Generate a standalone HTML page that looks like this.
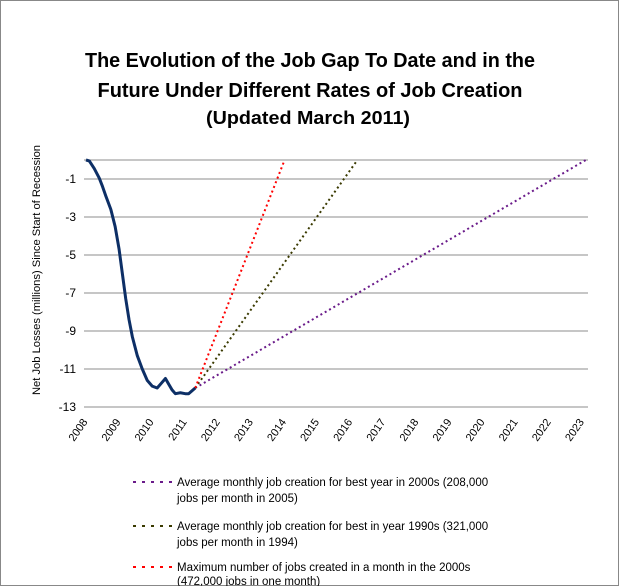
<!DOCTYPE html>
<html><head><meta charset="utf-8"><style>
html,body{margin:0;padding:0;background:#fff}
svg{display:block;font-family:"Liberation Sans",sans-serif}
</style></head><body>
<svg width="619" height="586" viewBox="0 0 619 586">
<rect x="0.5" y="0.5" width="618" height="585" fill="#fff" stroke="#888"/>
<g font-weight="bold" text-anchor="middle" fill="#000">
<text x="310" y="67" font-size="20" textLength="450" lengthAdjust="spacingAndGlyphs">The Evolution of the Job Gap To Date and in the</text>
<text x="310" y="97" font-size="20" textLength="425" lengthAdjust="spacingAndGlyphs">Future Under Different Rates of Job Creation</text>
<text x="308" y="124" font-size="18" textLength="204" lengthAdjust="spacingAndGlyphs">(Updated March 2011)</text>
</g>
<text transform="translate(40,270) rotate(-90)" text-anchor="middle" font-size="11" textLength="250" lengthAdjust="spacingAndGlyphs">Net Job Losses (millions) Since Start of Recession</text>
<g id="grid"></g>
<g id="yticks"></g>
<g id="xticks"></g>
<g id="series"></g>
<g font-size="11.5" fill="#000">
<line x1="133" y1="482" x2="172" y2="482" stroke="#6a1b8a" stroke-width="2" stroke-dasharray="3,6"/>
<text x="177" y="486">Average monthly job creation for best year in 2000s (208,000</text>
<text x="177" y="502">jobs per month in 2005)</text>
<line x1="133" y1="526" x2="172" y2="526" stroke="#3a3a00" stroke-width="2" stroke-dasharray="3,6"/>
<text x="177" y="530">Average monthly job creation for best in year 1990s (321,000</text>
<text x="177" y="546">jobs per month in 1994)</text>
<line x1="133" y1="567" x2="172" y2="567" stroke="#ff0000" stroke-width="2" stroke-dasharray="3,6"/>
<text x="177" y="571">Maximum number of jobs created in a month in the 2000s</text>
<text x="177" y="585">(472,000 jobs in one month)</text>
</g>
</svg>
<script>
const yTicks=[-1,-3,-5,-7,-9,-11,-13];
const years=[2008,2009,2010,2011,2012,2013,2014,2015,2016,2017,2018,2019,2020,2021,2022,2023];
const actualX=[2008.0,2008.1,2008.25,2008.4,2008.5,2008.6,2008.75,2008.88,2009.0,2009.1,2009.2,2009.3,2009.4,2009.55,2009.7,2009.85,2010.0,2010.15,2010.3,2010.4,2010.5,2010.6,2010.7,2010.85,2011.0,2011.1,2011.2,2011.3];
const actualY=[0,-0.05,-0.45,-0.95,-1.4,-1.9,-2.6,-3.5,-4.7,-6.0,-7.3,-8.4,-9.3,-10.3,-11.0,-11.6,-11.9,-12.0,-11.7,-11.5,-11.8,-12.1,-12.3,-12.25,-12.3,-12.3,-12.15,-12.0];
const projStart=[2011.3,-12.0];
const purpleEnd=[2023.1,0];
const greenEnd=[2016.2,0];
const redEnd=[2014.0,0];
const X0=86,PXY=33.1,Y0=160,PXU=19;
const sx=v=>X0+(v-2008)*PXY, sy=v=>Y0-v*PXU;
const NS='http://www.w3.org/2000/svg';
function mk(tag,parent){const e=document.createElementNS(NS,tag);parent.appendChild(e);return e;}
const grid=document.getElementById('grid'),yt=document.getElementById('yticks'),xt=document.getElementById('xticks'),ser=document.getElementById('series');
[0,...yTicks].forEach(v=>{const l=mk('line',grid);


l.setAttribute('x1',84);l.setAttribute('x2',588);l.setAttribute('y1',sy(v));l.setAttribute('y2',sy(v));l.setAttribute('stroke','#8c8c8c');l.setAttribute('stroke-width',1);});
yTicks.forEach(v=>{const t=mk('text',yt);


t.setAttribute('x',76);t.setAttribute('y',sy(v)+4);t.setAttribute('text-anchor','end');t.setAttribute('font-size','12');t.textContent=String(v);});
years.forEach(y=>{const t=mk('text',xt);


const x=sx(y)+2,yy=422;t.setAttribute('transform',`translate(${x},${yy}) rotate(-55)`);t.setAttribute('text-anchor','end');t.setAttribute('font-size','11');t.textContent=String(y);});
function proj(end,color,name){const l=mk('line',ser);


l.setAttribute('x1',sx(projStart[0]));l.setAttribute('y1',sy(projStart[1]));l.setAttribute('x2',sx(end[0]));l.setAttribute('y2',sy(end[1]));l.setAttribute('stroke',color);l.setAttribute('stroke-width',2);l.setAttribute('stroke-dasharray','2,3');}
proj(purpleEnd,'#6a1b8a','series-2005-rate');
proj(greenEnd,'#3a3a00','series-1994-rate');
proj(redEnd,'#ff0000','series-max-rate');
const p=mk('polyline',ser);


p.setAttribute('points',actualX.map((x,i)=>sx(x)+','+sy(actualY[i])).join(' '));
p.setAttribute('fill','none');p.setAttribute('stroke','#0d2f66');p.setAttribute('stroke-width',3);p.setAttribute('stroke-linejoin','round');
</script>
</body></html>
